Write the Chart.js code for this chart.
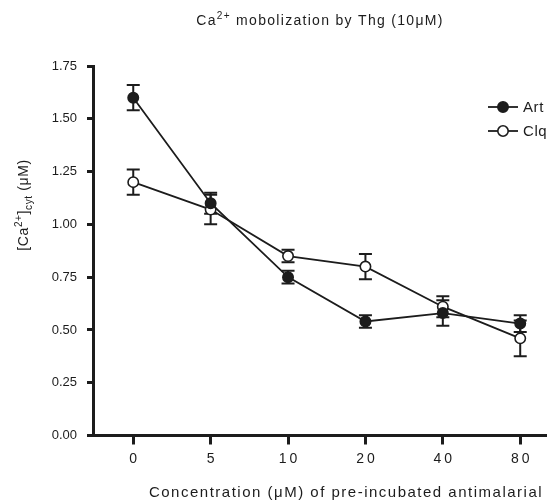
<!DOCTYPE html>
<html>
<head>
<meta charset="utf-8">
<script src="https://cdn.jsdelivr.net/npm/chart.js@4"></script>
<style>
  html, body { margin: 0; padding: 0; background: #fff; overflow: hidden; }
</style>
</head>
<body>
<canvas id="chart" width="547" height="500"></canvas>
<script>
// concentrations of the pre-incubated antimalarial (uM), one category each
const concentrations = ['0', '5', '10', '20', '40', '80'];
const seriesNames = ['Art', 'Clq'];
const artMean = [1.60, 1.10, 0.75, 0.54, 0.58, 0.53];
const artSem  = [0.06, 0.05, 0.03, 0.03, 0.06, 0.04];
const clqMean = [1.20, 1.07, 0.85, 0.80, 0.61, 0.46];
const clqSem  = [0.06, 0.07, 0.03, 0.06, 0.05, 0.085];

const ink = '#1c1c1c';
const FONT = '"Liberation Sans", Arial, Helvetica, sans-serif';

// text with super/subscripts: parts = [[text, 'sup'|'sub'|''], ...]
function richWidth(c, parts, size) {
  let w = 0;
  parts.forEach(([t, k]) => {
    c.font = (k ? size * 0.72 : size) + 'px ' + FONT;
    w += c.measureText(t).width;
  });
  return w;
}
function drawRich(c, parts, x, y, size) {
  // x = centre, y = baseline
  let cx = x - richWidth(c, parts, size) / 2;
  c.textAlign = 'left';
  c.textBaseline = 'alphabetic';
  parts.forEach(([t, k]) => {
    c.font = (k ? size * 0.72 : size) + 'px ' + FONT;
    const dy = k === 'sup' ? -size * 0.4 : k === 'sub' ? size * 0.28 : 0;
    c.fillText(t, cx, y + dy);
    cx += c.measureText(t).width;
  });
}

const errorBars = {
  id: 'errorBars',
  beforeDatasetsDraw(chart) {
    const { ctx: c, scales: { x, y } } = chart;
    c.save();
    c.strokeStyle = ink;
    c.lineWidth = 2;
    [[artMean, artSem], [clqMean, clqSem]].forEach(([m, e]) => {
      m.forEach((v, i) => {
        const px = x.getPixelForValue(i);
        const top = y.getPixelForValue(v + e[i]);
        const bot = y.getPixelForValue(v - e[i]);
        c.beginPath();
        c.moveTo(px, top); c.lineTo(px, bot);
        c.moveTo(px - 6.5, top); c.lineTo(px + 6.5, top);
        c.moveTo(px - 6.5, bot); c.lineTo(px + 6.5, bot);
        c.stroke();
      });
    });
    c.restore();
  }
};

const texts = {
  id: 'texts',
  afterDraw(chart) {
    const { ctx: c, scales: { x } } = chart;
    c.save();
    c.fillStyle = ink;

    // title
    c.letterSpacing = '1.3px';
    drawRich(c, [['Ca', ''], ['2+', 'sup'], [' mobolization by Thg (10\u03bcM)', '']], 320, 25, 14);

    // x tick labels
    c.letterSpacing = '3px';
    c.font = '14px ' + FONT;
    c.textAlign = 'left';
    c.textBaseline = 'middle';
    concentrations.forEach((lab, i) => {
      const w = c.measureText(lab).width - 3;
      c.fillText(lab, x.getPixelForValue(i) - w / 2, 459);
    });

    // x axis title
    c.letterSpacing = '1.5px';
    drawRich(c, [['Concentration (\u03bcM) of pre-incubated antimalarial', '']], 346, 497, 15);

    // y axis title
    c.save();
    c.translate(28, 205);
    c.rotate(-Math.PI / 2);
    c.letterSpacing = '0.6px';
    drawRich(c, [['[Ca', ''], ['2+', 'sup'], [']', ''], ['cyt', 'sub'], [' (\u03bcM)', '']], 0, 0, 14);
    c.restore();

    // legend
    c.letterSpacing = '0.6px';
    chart.data.datasets.forEach((ds, k) => {
      const ly = 107 + k * 24;
      c.strokeStyle = ink;
      c.lineWidth = 1.8;
      c.beginPath(); c.moveTo(488, ly); c.lineTo(518, ly); c.stroke();
      c.beginPath(); c.arc(503, ly, 5.2, 0, Math.PI * 2);
      c.fillStyle = ds.pointBackgroundColor; c.fill();
      c.lineWidth = 1.6; c.stroke();
      c.fillStyle = ink;
      c.font = '15px ' + FONT;
      c.textAlign = 'left';
      c.textBaseline = 'middle';
      c.fillText(ds.label, 523, ly + 1);
    });
    c.restore();
  }
};

const ctx = document.getElementById('chart').getContext('2d');
const chart = new Chart(ctx, {
  type: 'line',
  data: {
    datasets: [
      {
        label: seriesNames[0],
        data: artMean.map((v, i) => ({ x: i, y: v })),
        borderColor: ink, borderWidth: 1.8,
        pointRadius: 5.2, pointBackgroundColor: ink, pointBorderColor: ink, pointBorderWidth: 1.6,
        tension: 0
      },
      {
        label: seriesNames[1],
        data: clqMean.map((v, i) => ({ x: i, y: v })),
        borderColor: ink, borderWidth: 1.8,
        pointRadius: 5.2, pointBackgroundColor: '#ffffff', pointBorderColor: ink, pointBorderWidth: 1.6,
        tension: 0
      }
    ]
  },
  options: {
    responsive: false,
    animation: false,
    layout: { autoPadding: false, padding: { top: 66, right: 0, bottom: 0, left: 0 } },
    plugins: { legend: { display: false }, tooltip: { enabled: false } },
    scales: {
      x: {
        type: 'linear',
        min: -0.52, max: 5.346,
        afterBuildTicks: s => { s.ticks = concentrations.map((_, i) => ({ value: i })); },
        afterFit: s => { s.height = 64.5; },
        ticks: { display: false },
        grid: { drawOnChartArea: false, tickLength: 9, tickWidth: 3, color: ink },
        border: { color: ink, width: 3 }
      },
      y: {
        min: 0, max: 1.75,
        afterFit: s => { s.width = 93; },
        ticks: {
          stepSize: 0.25,
          callback: v => v.toFixed(2),
          font: { family: FONT, size: 13 },
          color: ink,
          padding: 10
        },
        grid: { drawOnChartArea: false, tickLength: 6, tickWidth: 3, color: ink },
        border: { color: ink, width: 3 }
      }
    }
  },
  plugins: [errorBars, texts]
});
</script>
</body>
</html>
